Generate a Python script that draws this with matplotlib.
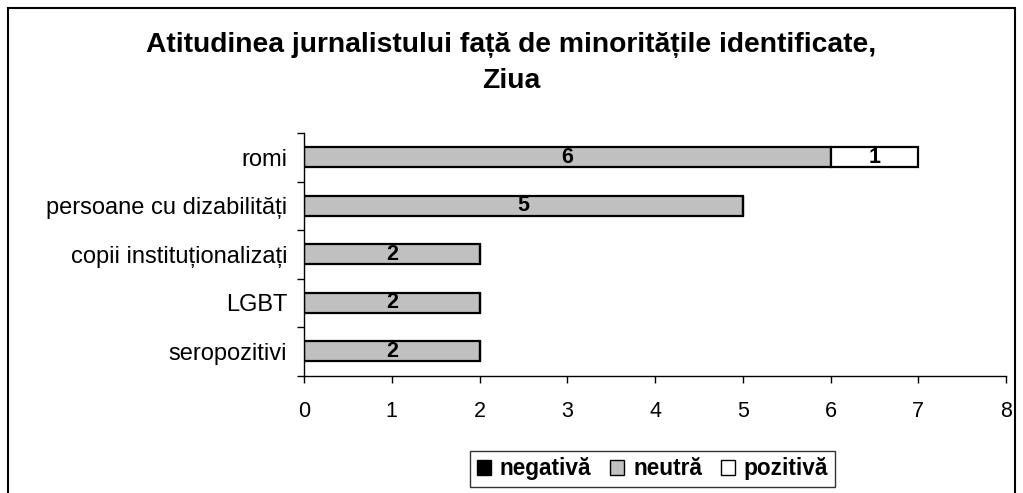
import numpy as np
import matplotlib
matplotlib.use("Agg")
import matplotlib.pyplot as plt
from matplotlib.patches import Rectangle

plt.rcParams['font.family'] = ['Liberation Sans', 'DejaVu Sans']

categories = ['seropozitivi', 'LGBT', 'copii instituționalizați',
              'persoane cu dizabilități', 'romi']
negativa = [0, 0, 0, 0, 0]
neutra = [2, 2, 2, 5, 6]
pozitiva = [0, 0, 0, 0, 1]
series_names = ['negativă', 'neutră', 'pozitivă']
series_colors = ['#000000', '#C0C0C0', '#FFFFFF']
xticks = [0, 1, 2, 3, 4, 5, 6, 7, 8]

fig = plt.figure(figsize=(10.23, 4.93), dpi=100)
ax = fig.add_axes([0.2972, 0.2381, 0.6862, 0.4921])

y = np.arange(len(categories))
left = np.zeros(len(categories))
for vals, name, col in zip([negativa, neutra, pozitiva], series_names, series_colors):
    vals = np.array(vals, dtype=float)
    ax.barh(y, vals, left=left, height=0.41, color=col, edgecolor='black',
            linewidth=1.6, label=name)
    for yi, l, v in zip(y, left, vals):
        if v > 0:
            ax.text(l + v / 2, yi, f'{int(v)}', ha='center', va='center',
                    fontsize=15.5, fontweight='bold')
    left += vals

ax.set_xlim(0, 8)
ax.set_ylim(-0.5, len(categories) - 0.5)
ax.set_xticks(xticks)
ax.set_xticklabels([str(t) for t in xticks], fontsize=15.5)
ax.set_yticks(y)
ax.set_yticklabels(categories, fontsize=17)
ax.set_yticks(np.arange(-0.5, len(categories), 1), minor=True)
ax.tick_params(axis='y', which='major', length=0, pad=12)
ax.tick_params(axis='y', which='minor', length=5, width=1, direction='out')
ax.tick_params(axis='x', length=5, width=1, direction='out', pad=13)
ax.spines['top'].set_visible(False)
ax.spines['right'].set_visible(False)
ax.spines['left'].set_linewidth(1)
ax.spines['bottom'].set_linewidth(1)

fig.text(0.5, 1 - 63 / 493,
         'Atitudinea jurnalistului față de minoritățile identificate,\nZiua',
         ha='center', va='center', fontsize=20.3, fontweight='bold', linespacing=1.55)

handles = [Rectangle((0, 0), 1, 1, facecolor=c, edgecolor='black', linewidth=1)
           for c in series_colors]
leg = fig.legend(handles, series_names, loc='center', bbox_to_anchor=(0.638, 0.0487),
                 ncol=3, frameon=True, fancybox=False, handlelength=0.6,
                 handleheight=0.6, handletextpad=0.4, columnspacing=0.85,
                 prop={'weight': 'bold', 'size': 16.3}, borderpad=0.3)
leg.get_frame().set_edgecolor('black')
leg.get_frame().set_linewidth(1)

fig.patches.append(Rectangle((8 / 1023, -0.02), 1007 / 1023, 1 - 8 / 493 + 0.02,
                             transform=fig.transFigure, fill=False,
                             edgecolor='black', linewidth=1.5))

fig.savefig('out.png', dpi=100)
